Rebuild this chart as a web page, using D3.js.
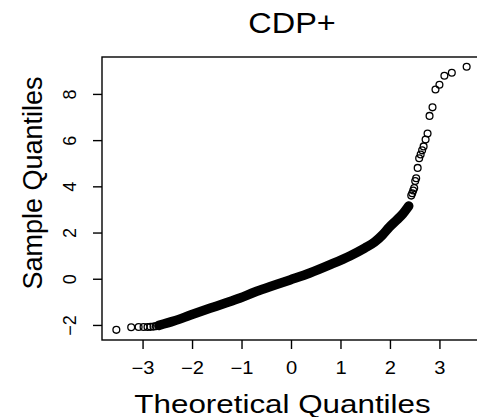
<!DOCTYPE html>
<html>
<head>
<meta charset="utf-8">
<script src="https://cdn.jsdelivr.net/npm/d3@7"></script>
<style>
  html, body { margin: 0; padding: 0; background: #fff; }
  svg { display: block; }
  text { font-family: "Liberation Sans", Arial, Helvetica, sans-serif; fill: #000; }
</style>
</head>
<body>
<div id="chart"></div>
<script>
// chart text
const title = 'CDP+'
const xTitle = 'Theoretical Quantiles'
const yTitle = 'Sample Quantiles'
const xTicks = [-3, -2, -1, 0, 1, 2, 3]
const yTicks = [-2, 0, 2, 4, 6, 8]

// sparse tails, read point by point (theoretical, sample)
const tailTheoretical = [
    -3.54, -3.24, -3.09, -2.99, -2.91, -2.85, -2.79, -2.74,
    2.42, 2.44, 2.46, 2.48, 2.50, 2.52, 2.55, 2.58, 2.61, 2.64,
    2.67, 2.71, 2.75, 2.79, 2.85, 2.91, 2.99, 3.09, 3.24, 3.54
]
const tailSample = [
    -2.19, -2.08, -2.07, -2.07, -2.07, -2.06, -2.05, -2.03,
    3.62, 3.72, 3.84, 3.95, 4.25, 4.37, 4.82, 5.24, 5.40, 5.58,
    5.75, 6.05, 6.31, 7.07, 7.44, 8.21, 8.42, 8.81, 8.94, 9.20
]

// dense middle run: points overlap into a solid band, read along its centre
const bandTheoretical = [
    -2.68, -2.38, -2.04, -1.65, -1.39, -1.04, -0.74, -0.44, -0.03,
    0.37, 0.77, 1.18, 1.48, 1.68, 1.84, 1.98, 2.13, 2.25, 2.37
]
const bandSample = [
    -2.00, -1.81, -1.55, -1.26, -1.07, -0.81, -0.55, -0.33, -0.03,
    0.27, 0.62, 1.01, 1.35, 1.61, 1.92, 2.26, 2.57, 2.83, 3.17
]

const width = 477
const height = 417
const plot = { left: 102, right: 481, top: 57, bottom: 340 }
const sx = 1.12 // the picture is a little wider than tall

const x = d3.scaleLinear().domain([-3.83, 3.83]).range([plot.left, plot.right])
const y = d3.scaleLinear().domain([-2.63, 9.62]).range([plot.bottom, plot.top])

const svg = d3.select('#chart').append('svg')
    .attr('width', width)
    .attr('height', height)

// dense band
const band = bandTheoretical.map((t, i) => [t, bandSample[i]])
svg.append('path')
    .datum(band)
    .attr('fill', 'none')
    .attr('stroke', '#000')
    .attr('stroke-width', 9.5)
    .attr('stroke-linecap', 'round')
    .attr('stroke-linejoin', 'round')
    .attr('d', d3.line().x((d) => x(d[0])).y((d) => y(d[1])).curve(d3.curveMonotoneX))

// points
const pts = tailTheoretical.map((t, i) => [t, tailSample[i]])
    .concat([band[0], band[band.length - 1]])
svg.append('g')
    .selectAll('circle')
    .data(pts)
    .join('circle')
    .attr('cx', (d) => x(d[0]))
    .attr('cy', (d) => y(d[1]))
    .attr('r', 3.4)
    .attr('fill', 'none')
    .attr('stroke', '#000')
    .attr('stroke-width', 1.3)

// box
svg.append('rect')
    .attr('x', plot.left)
    .attr('y', plot.top)
    .attr('width', plot.right - plot.left)
    .attr('height', plot.bottom - plot.top)
    .attr('fill', 'none')
    .attr('stroke', '#000')
    .attr('stroke-width', 1.4)

// x axis
const xAxis = svg.append('g')
xAxis.selectAll('line')
    .data(xTicks)
    .join('line')
    .attr('x1', (d) => x(d))
    .attr('x2', (d) => x(d))
    .attr('y1', plot.bottom)
    .attr('y2', plot.bottom + 9)
    .attr('stroke', '#000')
    .attr('stroke-width', 1.4)
xAxis.selectAll('text')
    .data(xTicks)
    .join('text')
    .attr('transform', (d) => `translate(${x(d)},373.5) scale(1.15,1)`)
    .attr('text-anchor', 'middle')
    .attr('font-size', 17.5)
    .text((d) => (d < 0 ? '\u2212' + Math.abs(d) : d))

// y axis
const yAxis = svg.append('g')
yAxis.selectAll('line')
    .data(yTicks)
    .join('line')
    .attr('x1', plot.left - 9)
    .attr('x2', plot.left)
    .attr('y1', (d) => y(d))
    .attr('y2', (d) => y(d))
    .attr('stroke', '#000')
    .attr('stroke-width', 1.4)
yAxis.selectAll('text')
    .data(yTicks)
    .join('text')
    .attr('transform', (d) => `translate(76,${y(d)}) rotate(-90)`)
    .attr('text-anchor', 'middle')
    .attr('font-size', 18)
    .text((d) => (d < 0 ? '\u2212' + Math.abs(d) : d))

// titles
svg.append('text')
    .attr('transform', `translate(292,32.5) scale(${sx},1)`)
    .attr('text-anchor', 'middle')
    .attr('font-size', 29)
    .text(title)

svg.append('text')
    .attr('transform', 'translate(282.5,413) scale(1.23,1)')
    .attr('text-anchor', 'middle')
    .attr('font-size', 25.5)
    .text(xTitle)

svg.append('text')
    .attr('transform', 'translate(41.5,183) rotate(-90)')
    .attr('text-anchor', 'middle')
    .attr('font-size', 27)
    .text(yTitle)
</script>
</body>
</html>
